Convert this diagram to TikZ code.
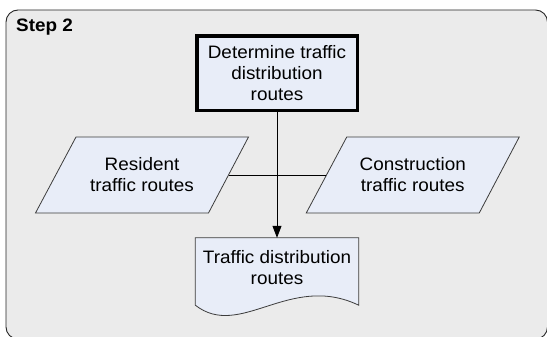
\documentclass[tikz,border=0pt]{standalone}
\usepackage{fontspec}
\setmainfont{Liberation Sans}[FakeStretch=1.05]
\usetikzlibrary{arrows.meta,calc}

\definecolor{panelgray}{RGB}{235,235,235}
\definecolor{boxblue}{RGB}{232,237,248}
\definecolor{edgegray}{RGB}{60,60,60}

\tikzset{
  panel/.style={draw=black!85, line width=0.9pt, fill=panelgray, rounded corners=12pt},
  steplabel/.style={font=\fontsize{18}{21}\selectfont\bfseries, anchor=base west, inner sep=0pt},
  bodytext/.style={font=\fontsize{18}{21}\selectfont, align=center, inner sep=0pt},
  processbox/.style={bodytext, draw=black, line width=3.5pt, fill=boxblue,
    minimum width=160.5pt, minimum height=74.5pt},
  shapeline/.style={draw=edgegray, line width=0.8pt, fill=boxblue},
  docarea/.style={bodytext, minimum width=163pt, minimum height=67pt},
  link/.style={draw=black, line width=0.8pt},
  flowarrow/.style={link, -{Triangle[length=12pt,width=9pt]}}
}

% parallelogram (data) outline around a node centre
\newcommand\paraoutline[1]{%
  \path[shapeline] ($(#1.center)+(-66,-38)$) -- ($(#1.center)+(106.5,-38)$)
    -- ($(#1.center)+(66.5,38)$) -- ($(#1.center)+(-106.5,38)$) -- cycle;}

\begin{document}
\begin{tikzpicture}[x=1pt, y=-1pt]
  \useasboundingbox (0,0) rectangle (547,337);
  \clip (0,0) rectangle (547,337);

  % step panel
  \path[panel] (6,10) rectangle (547.5,339);
  \node[steplabel] (step) at (16,31.5) {Step 2};

  % process step
  \node[processbox] (det) at (277,73.25) {Determine traffic\\distribution\\routes};

  % inputs
  \node[bodytext] (res) at (142,175) {};
  \node[bodytext] (con) at (412.75,175) {};
  \paraoutline{res}
  \paraoutline{con}
  \node[bodytext] at (res.center) {Resident\\traffic routes};
  \node[bodytext] at (con.center) {Construction\\traffic routes};
  \coordinate (resR) at ($(res.center)+(86.5,0)$);
  \coordinate (conL) at ($(con.center)+(-86.5,0)$);

  % output document
  \node[docarea] (doc) at (277,271.5) {};
  \path[shapeline] (doc.south west) -- (doc.north west) -- (doc.north east) -- (doc.south east)
    .. controls ($(doc.south east)+(-69,-33)$) and ($(doc.south west)+(45,35)$) .. (doc.south west) -- cycle;
  \node[bodytext] at ($(doc.center)+(0,-4)$) {Traffic distribution\\routes};

  % connectors
  \draw[link] (resR) -- (det.south |- resR);
  \draw[link] (conL) -- (det.south |- conL);
  \draw[flowarrow] (det.south) -- (doc.north);
\end{tikzpicture}
\end{document}
